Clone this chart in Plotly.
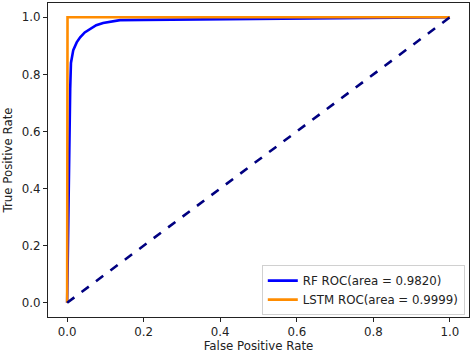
import plotly.graph_objects as go

rf_fpr = [0.0, 0.001, 0.004, 0.008, 0.010, 0.016, 0.025, 0.034, 0.046, 0.060, 0.076, 0.094, 0.115, 0.138, 0.20, 0.40, 0.60, 0.80, 1.0]
rf_tpr = [0.0, 0.10, 0.45, 0.75, 0.84, 0.885, 0.912, 0.930, 0.947, 0.960, 0.972, 0.980, 0.986, 0.990, 0.991, 0.993, 0.995, 0.997, 1.0]

lstm_fpr = [0.0, 0.0, 0.001, 1.0]
lstm_tpr = [0.0, 0.999, 1.0, 1.0]

diag_x = [0.0, 1.0]
diag_y = [0.0, 1.0]

rf_label = "RF ROC(area = 0.9820)"
lstm_label = "LSTM ROC(area = 0.9999)"
tick_vals = [0.0, 0.2, 0.4, 0.6, 0.8, 1.0]
tick_text = ["0.0", "0.2", "0.4", "0.6", "0.8", "1.0"]

FONT = "DejaVu Sans"
FS = 11.8

fig = go.Figure()
fig.add_trace(go.Scatter(x=rf_fpr, y=rf_tpr, mode="lines", name=rf_label,
                         line=dict(color="#0000ff", width=2.6)))
fig.add_trace(go.Scatter(x=lstm_fpr, y=lstm_tpr, mode="lines", name=lstm_label,
                         line=dict(color="#ff8c00", width=2.6)))
fig.add_trace(go.Scatter(x=diag_x, y=diag_y, mode="lines", showlegend=False,
                         line=dict(color="#000080", width=2.6, dash="dash")))

axis_common = dict(
    showline=True, linecolor="#222", linewidth=1, mirror=True,
    showgrid=False, zeroline=False, automargin=False,
    ticks="outside", ticklen=4, tickwidth=1, tickcolor="#222",
    tickvals=tick_vals, ticktext=tick_text,
    tickfont=dict(family=FONT, size=FS, color="#222"),
)

fig.update_layout(
    width=474, height=355,
    margin=dict(l=48, r=5, t=3, b=38),
    paper_bgcolor="white", plot_bgcolor="white",
    font=dict(family=FONT, size=FS, color="#222"),
    xaxis=dict(range=[-0.05, 1.05],
               title=dict(text="False Positive Rate", font=dict(family=FONT, size=FS), standoff=2),
               **axis_common),
    yaxis=dict(range=[-0.05, 1.05],
               title=dict(text="True Positive Rate", font=dict(family=FONT, size=FS), standoff=6),
               **axis_common),
    legend=dict(x=0.99, y=0.006, xanchor="right", yanchor="bottom",
                bgcolor="white", bordercolor="#d0d0d0", borderwidth=1,
                font=dict(family=FONT, size=FS, color="#222"),
                itemwidth=30, tracegroupgap=0),
    showlegend=True,
)

fig.write_html("out.html",
               config={"displayModeBar": False},
               post_script="document.body.style.margin='0';document.body.style.overflow='hidden';")
